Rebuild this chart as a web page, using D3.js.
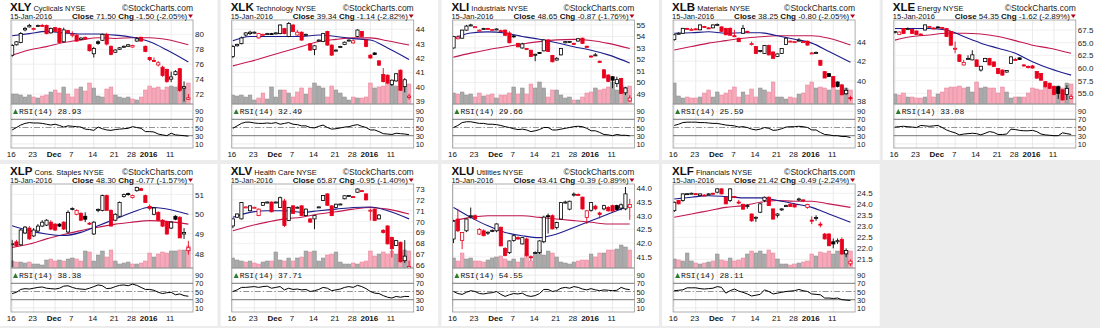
<!DOCTYPE html>
<html><head><meta charset="utf-8">
<script src="https://cdn.jsdelivr.net/npm/d3@7"></script>
<style>body{margin:0;background:#ececec;}svg{display:block}</style>
</head><body><svg id="c" width="1100" height="328"></svg>
<script>
const dates = ["2015-11-16","2015-11-17","2015-11-18","2015-11-19","2015-11-20","2015-11-23","2015-11-24","2015-11-25","2015-11-27","2015-11-30",
"2015-12-01","2015-12-02","2015-12-03","2015-12-04","2015-12-07","2015-12-08","2015-12-09","2015-12-10","2015-12-11","2015-12-14","2015-12-15","2015-12-16","2015-12-17","2015-12-18",
"2015-12-21","2015-12-22","2015-12-23","2015-12-24","2015-12-28","2015-12-29","2015-12-30","2015-12-31",
"2016-01-04","2016-01-05","2016-01-06","2016-01-07","2016-01-08","2016-01-11","2016-01-12","2016-01-13","2016-01-14","2016-01-15"];
const tickDates = ["2015-11-16","2015-11-23","2015-12-01","2015-12-07","2015-12-14","2015-12-21","2015-12-28","2016-01-04","2016-01-11"];
const tickLabels = ["16","23","Dec","7","14","21","28","2016","11"];
const maIdx = [0,4,8,12,16,20,24,28,32,36,41];
const rsiTicks = [90,70,50,30,10];

const symbols = ["XLY","XLK","XLI","XLB","XLE","XLP","XLV","XLU","XLF"];
const sectorNames = ["Cyclicals","Technology","Industrials","Materials","Energy","Cons. Staples","Health Care","Utilities","Financials"];
const closeText = ["71.50","39.34","48.65","38.25","54.35","48.30","65.87","43.41","21.42"];
const chgText = ["-1.50 (-2.05%)","-1.14 (-2.82%)","-0.87 (-1.76%)","-0.80 (-2.05%)","-1.62 (-2.89%)","-0.77 (-1.57%)","-0.95 (-1.40%)","-0.39 (-0.89%)","-0.49 (-2.24%)"];
const rsiLast = ["28.93","32.49","29.66","25.59","33.08","38.38","37.71","54.55","28.11"];

// ---- XLY ----
const XLY_ohlc = [[77.2,78.7,77.0,78.5],[78.6,79.1,78.5,79.0],[78.9,80.3,78.8,80.1],[80.6,81.0,80.4,80.8],[81.0,81.4,80.9,81.2],[80.7,80.9,80.5,80.8],[81.1,81.3,81.0,81.2],[81.2,81.4,81.0,81.1],[81.2,81.3,80.0,80.1],[80.2,80.9,80.1,80.8],
[80.9,81.0,80.3,80.4],[80.8,80.9,78.8,78.9],[79.0,80.9,78.9,80.6],[80.5,80.6,80.1,80.2],[79.9,80.4,79.6,80.0],[79.9,80.0,79.0,79.1],[79.3,79.6,79.2,79.5],[79.6,79.7,79.3,79.4],[78.6,78.7,77.7,77.8],[77.4,78.3,76.9,78.1],
[79.0,79.2,78.6,78.8],[79.2,80.1,79.1,80.0],[80.0,80.2,78.5,78.7],[78.4,78.5,77.2,77.3],[77.6,78.0,77.5,77.9],[78.0,78.3,77.9,78.2],[78.3,78.5,78.2,78.4],[78.4,78.7,78.3,78.6],[78.3,78.6,78.2,78.5],[79.1,79.6,79.0,79.4],
[79.6,79.7,79.0,79.1],[78.4,78.5,77.6,77.7],[76.9,77.0,76.4,76.6],[76.5,76.9,76.3,76.5],[75.9,76.4,75.7,76.2],[75.6,75.8,74.3,74.5],[75.3,75.4,73.5,73.7],[74.0,75.0,73.6,74.3],[74.6,75.2,74.5,75.0],[75.4,75.5,72.3,72.5],
[72.8,73.7,71.0,73.0],[71.3,72.0,71.2,71.5]];
const XLY_vol = [10,10,9,7,9,7,6,8,9,12,14,11,17,10,7,15,17,13,21,16,8,7,15,17,9,7,6,7,5,4,7,14,18,16,17,14,17,18,17,19,16,21];
const XLY_rsi = [44,50,56,60,62,61,61,60,58,56,58,55,51,54,53,52,51,46,45,43,51,47,44,43,45,46,47,48,52,50,48,40,40,39,34,32,30,36,32,31,30,28.9];
const XLY_ma20 = [79.8,80.1,80.4,80.2,80.05,80.05,79.9,79.6,79.0,77.9,76.3];
const XLY_ma50 = [77.2,77.9,78.35,78.9,79.25,79.55,79.45,79.55,79.55,79.3,78.6];
const XLY_ticks = [72,74,76,78,80];
const XLY_domain = [70.67,81.92];

// ---- XLK ----
const XLK_ohlc = [[42.1,42.9,42.0,42.8],[42.85,43.0,42.8,42.95],[43.0,43.5,42.95,43.4],[43.6,43.8,43.5,43.75],[43.7,43.9,43.6,43.8],[43.75,43.85,43.7,43.8],[43.4,43.75,43.35,43.7],[43.6,43.7,43.55,43.65],[43.65,43.75,43.6,43.7],[43.7,43.75,43.65,43.7],
[43.7,43.8,43.65,43.75],[43.7,44.35,43.65,44.3],[44.05,44.1,43.65,43.7],[43.5,44.5,43.45,44.4],[44.3,44.35,43.8,43.85],[43.6,43.95,43.55,43.8],[43.8,43.85,43.2,43.25],[43.6,43.7,43.55,43.65],[43.0,43.05,42.5,42.55],[42.6,42.9,42.2,42.85],
[43.2,43.3,43.15,43.25],[43.15,43.75,43.1,43.7],[43.85,43.9,42.85,42.9],[42.9,42.95,42.15,42.2],[42.5,42.6,42.45,42.55],[42.75,42.85,42.7,42.8],[42.95,43.15,42.9,43.1],[43.2,43.3,43.15,43.25],[43.05,43.3,43.0,43.2],[43.5,44.0,43.45,43.95],
[43.85,43.9,43.45,43.5],[43.25,43.3,42.75,42.8],[42.2,42.25,41.95,42.0],[42.35,42.4,42.2,42.25],[41.8,41.85,41.45,41.5],[40.85,41.3,40.3,40.35],[40.8,40.85,40.2,40.25],[40.15,40.5,40.05,40.45],[40.4,40.95,40.35,40.9],[41.15,41.2,39.7,39.75],
[40.0,40.6,39.6,40.48],[39.25,39.5,39.1,39.34]];
const XLK_vol = [9,8,9,7,9,4,6,11,5,17,7,14,14,11,7,12,16,10,16,21,18,16,7,18,14,11,7,4,7,6,6,7,21,16,17,18,21,19,18,24,17,20];
const XLK_rsi = [48,54,60,63,63,61,60,60,61,60,62,58,60,62,58,57,54,54,50,49,53,56,50,46,47,49,51,52,55,57,53,50,44,44,40,35,34,33,36,35,34,32.5];
const XLK_ma20 = [43.2,43.5,43.5,43.5,43.5,43.6,43.5,43.35,43.25,42.7,41.9];
const XLK_ma50 = [41.45,41.75,42.1,42.45,42.8,43.15,43.3,43.4,43.4,43.2,42.9];
const XLK_ticks = [39,40,41,42,43,44];
const XLK_domain = [38.79,44.65];

// ---- XLI ----
const XLI_ohlc = [[53.0,54.05,52.95,54.0],[53.8,54.1,53.75,53.95],[53.85,54.6,53.8,54.55],[54.55,55.0,54.5,54.9],[54.95,55.1,54.9,55.0],[54.8,54.9,54.75,54.85],[54.5,54.6,54.45,54.55],[54.65,54.75,54.6,54.7],[54.7,54.75,54.6,54.65],[54.55,54.65,54.5,54.6],
[54.6,54.7,54.55,54.65],[54.5,54.6,54.45,54.5],[54.55,54.6,54.05,54.1],[54.3,54.45,53.4,53.45],[54.05,54.1,53.9,54.0],[53.4,53.45,53.05,53.1],[53.0,53.45,52.95,53.35],[52.95,53.0,52.85,52.9],[52.8,52.85,52.2,52.25],[52.4,52.5,51.85,52.45],
[52.6,52.65,52.5,52.55],[52.75,53.75,52.7,53.7],[53.7,53.75,52.65,52.7],[52.35,52.4,51.75,51.8],[51.95,52.2,51.9,52.1],[52.4,53.0,52.35,52.95],[53.45,53.6,53.4,53.55],[53.5,53.6,53.45,53.57],[53.4,53.45,53.3,53.35],[53.6,53.85,53.55,53.8],
[53.85,53.9,53.35,53.4],[53.15,53.2,53.0,53.05],[52.3,52.35,52.15,52.25],[52.35,52.55,52.3,52.4],[51.85,51.9,51.7,51.75],[51.1,51.15,50.35,50.4],[50.65,50.7,50.05,50.1],[50.5,50.55,49.5,50.2],[49.9,50.5,49.6,50.25],[50.35,50.4,49.0,49.05],
[49.1,49.6,48.9,49.52],[48.4,48.9,48.3,48.65]];
const XLI_vol = [11,10,12,9,10,7,11,8,9,10,6,9,9,11,17,10,16,10,20,16,22,16,7,14,14,9,6,7,4,4,7,11,12,16,14,15,17,22,14,19,17,18];
const XLI_rsi = [50,55,62,64,64,62,60,60,58,58,57,55,52,50,47,45,46,44,40,42,45,50,50,44,44,46,48,50,52,53,52,48,42,42,38,33,32,30,33,31,31,29.7];
const XLI_ma20 = [53.85,54.3,54.4,54.3,54.0,53.75,53.45,53.1,52.8,52.4,51.7];
const XLI_ma50 = [52.2,52.55,52.85,53.1,53.35,53.55,53.7,53.75,53.65,53.4,52.95];
const XLI_ticks = [49,50,51,52,53,54,55];
const XLI_domain = [48.13,55.43];

// ---- XLB ----
const XLB_ohlc = [[44.2,44.75,44.1,44.7],[44.8,44.95,44.75,44.85],[44.85,45.4,44.8,45.35],[45.35,45.4,45.25,45.3],[45.2,45.4,45.15,45.25],[45.3,45.35,45.2,45.22],[45.2,45.75,45.15,45.7],[45.55,45.6,45.45,45.5],[45.4,45.45,45.3,45.35],[45.4,45.75,45.35,45.7],
[45.7,45.85,45.6,45.75],[45.5,45.55,45.0,45.05],[45.35,45.4,44.65,44.7],[45.35,45.45,44.6,44.65],[44.6,45.2,44.5,44.6],[44.35,44.4,43.95,44.0],[44.85,45.7,44.8,45.35],[45.05,45.1,44.95,45.0],[43.75,44.0,43.6,43.8],[43.5,43.55,42.75,42.8],
[43.0,43.1,42.9,43.1],[42.8,43.65,42.75,43.6],[43.6,43.7,42.6,42.65],[42.95,43.0,42.3,42.3],[42.5,42.8,42.45,42.75],[42.8,43.3,42.75,43.3],[43.7,44.4,43.65,44.35],[44.0,44.1,43.95,44.05],[43.95,44.05,43.9,44.0],[44.1,44.35,44.05,44.15],
[44.0,44.05,43.95,44.0],[44.05,44.1,43.6,43.65],[42.8,42.95,42.75,42.85],[42.85,43.0,42.8,42.9],[42.1,42.15,41.55,41.6],[40.95,41.0,40.3,40.3],[40.75,40.8,40.4,40.45],[40.45,40.5,39.35,39.4],[39.9,39.95,39.35,39.45],[39.6,39.7,38.55,38.6],
[38.7,39.3,38.6,39.05],[38.3,38.5,38.0,38.25]];
const XLB_vol = [21,8,6,7,6,6,7,11,14,7,12,9,11,14,17,7,12,9,15,7,16,14,12,22,7,7,5,7,6,10,11,19,22,16,17,16,14,17,14,17,16,14];
const XLB_rsi = [55,58,62,63,63,63,62,62,61,60,60,58,56,55,54,51,52,50,46,44,46,50,48,43,44,47,51,52,52,53,52,50,44,44,38,33,32,30,30,28,28,25.6];
const XLB_ma20 = [44.85,44.9,45.0,44.85,44.9,44.9,44.6,44.25,43.85,43.0,41.9];
const XLB_ma50 = [43.15,43.5,43.85,44.1,44.35,44.5,44.6,44.6,44.6,44.35,43.65];
const XLB_ticks = [38,40,42,44];
const XLB_domain = [37.66,46.2];

// ---- XLE ----
const XLE_ohlc = [[67.0,67.3,66.8,67.2],[66.6,67.2,66.5,67.1],[67.8,67.9,66.7,66.8],[67.7,68.0,67.6,67.8],[67.6,67.7,66.8,66.8],[67.3,67.4,66.5,66.6],[66.7,66.8,66.4,66.5],[67.5,68.6,67.4,68.5],[68.1,68.3,68.0,68.2],[67.9,68.0,67.7,67.8],
[68.1,68.2,68.0,68.1],[68.0,68.1,67.9,67.95],[67.8,67.9,66.1,66.2],[67.2,67.3,64.4,64.5],[63.8,65.2,62.9,63.9],[62.6,62.7,61.2,61.3],[60.6,61.6,60.5,61.1],[61.8,62.5,61.7,61.9],[61.6,63.5,61.5,62.6],[61.6,61.7,60.2,60.3],
[59.6,60.4,59.3,60.35],[61.25,62.0,61.2,61.9],[61.9,62.0,60.5,60.6],[61.2,61.3,60.2,60.3],[59.9,60.0,58.8,58.9],[59.6,59.7,58.5,58.6],[59.2,59.6,59.1,59.5],[60.9,62.3,60.8,62.2],[61.7,62.0,61.5,61.6],[62.0,62.1,61.6,61.7],
[60.6,60.8,60.3,60.4],[60.3,60.5,59.9,60.1],[60.4,60.6,59.9,60.0],[59.3,59.4,57.9,58.0],[58.9,59.0,57.5,57.6],[57.3,57.4,56.2,56.3],[57.0,57.1,55.9,56.0],[56.4,56.5,54.6,54.8],[56.3,56.5,53.9,55.0],[55.7,55.8,53.6,53.7],
[54.8,56.6,53.7,55.97],[54.0,54.8,53.8,54.35]];
const XLE_vol = [10,9,11,7,7,6,6,7,14,7,10,12,16,17,17,18,16,17,12,22,16,17,16,16,11,17,12,6,7,7,7,11,16,15,14,17,16,14,18,16,21,20];
const XLE_rsi = [51,52,53,52,51,50,55,54,53,54,55,50,44,40,37,32,34,35,36,35,32,36,40,38,33,33,34,46,45,43,42,42,43,40,34,32,31,30,30,37,35,33.1];
const XLE_ma20 = [67.8,67.8,67.8,67.5,66.2,64.9,63.9,62.9,61.25,59.9,58.6];
const XLE_ma50 = [65.5,66.2,66.5,66.85,66.85,66.7,66.2,65.4,64.5,63.9,62.9];
const XLE_ticks = [55,57.5,60,62.5,65,67.5];
const XLE_domain = [52.9,69.47];

// ---- XLP ----
const XLP_ohlc = [[48.45,48.7,47.3,48.5],[48.6,48.7,48.35,48.4],[48.45,49.25,48.4,49.2],[49.05,49.4,49.0,49.35],[49.3,49.4,48.7,48.75],[48.9,49.3,48.85,49.2],[49.15,49.5,49.1,49.4],[49.4,49.7,49.35,49.6],[49.45,49.75,49.4,49.7],[49.6,49.7,49.2,49.25],
[49.5,49.55,49.15,49.2],[49.5,49.55,49.35,49.4],[49.6,49.65,49.2,49.25],[49.1,50.2,49.05,50.1],[50.25,50.35,50.2,50.3],[50.0,50.25,49.95,50.2],[50.05,50.1,49.65,49.7],[49.9,50.1,49.6,49.75],[49.55,49.6,49.45,49.5],[49.0,49.65,48.95,49.6],
[50.2,50.3,50.1,50.25],[50.2,51.0,50.15,50.95],[50.95,51.0,50.2,50.2],[50.2,50.25,49.4,49.4],[49.7,50.05,49.65,50.0],[49.9,50.65,49.85,50.6],[50.9,51.05,50.85,51.0],[51.05,51.1,50.95,51.02],[50.85,51.0,50.8,50.95],[51.2,51.4,51.15,51.37],
[51.3,51.35,51.2,51.22],[50.95,51.0,50.6,50.6],[50.4,50.5,50.2,50.3],[50.0,50.35,49.95,50.32],[50.1,50.15,49.65,49.7],[49.7,49.75,49.35,49.4],[49.6,49.65,48.95,49.0],[49.3,49.65,49.25,49.6],[49.9,49.95,49.7,49.75],[49.85,49.9,48.8,48.8],
[49.0,49.3,48.75,49.07],[48.15,48.65,47.95,48.3]];
const XLP_vol = [7,6,6,5,6,4,4,3,8,9,7,8,7,9,10,9,7,17,16,7,13,17,11,18,7,4,5,6,4,4,5,7,15,11,14,16,15,17,17,18,18,22];
const XLP_rsi = [45,48,55,57,56,58,60,61,58,57,56,58,63,64,60,57,56,55,58,62,66,64,57,58,62,65,66,64,68,65,60,55,55,53,48,45,47,48,42,44,40,38.4];
const XLP_ma20 = [49.42,49.17,49.0,48.92,49.08,49.42,49.76,50.1,50.36,50.27,50.0];
const XLP_ma50 = [48.32,48.49,48.75,48.97,49.17,49.34,49.5,49.6,49.68,49.64,49.5];
const XLP_ticks = [48,49,50,51];
const XLP_domain = [47.27,51.54];

// ---- XLV ----
const XLV_ohlc = [[69.6,70.3,69.4,70.25],[70.4,70.75,70.35,70.7],[70.25,71.8,70.2,71.75],[71.3,71.4,71.25,71.35],[71.0,71.5,70.95,71.45],[71.3,71.35,71.25,71.32],[70.55,71.2,70.5,71.15],[71.5,71.8,71.45,71.75],[71.75,71.85,71.7,71.8],[71.8,71.85,70.85,70.9],
[71.75,71.85,71.7,71.8],[71.3,72.3,71.25,72.2],[71.9,72.1,69.5,69.65],[70.1,71.35,70.05,71.3],[71.45,71.5,70.7,70.75],[71.3,71.4,71.25,71.32],[71.45,71.5,70.5,70.55],[70.55,71.2,70.5,71.15],[70.25,70.3,69.9,69.95],[70.25,70.6,69.3,70.55],
[71.3,71.4,71.25,71.35],[71.95,72.45,71.9,72.4],[72.55,72.6,71.45,71.5],[71.45,71.5,70.5,70.55],[71.3,71.65,71.25,71.6],[71.6,71.65,71.55,71.62],[72.1,72.4,72.05,72.38],[72.35,72.45,72.3,72.4],[72.3,72.35,72.2,72.25],[72.7,73.05,72.65,73.0],
[72.85,72.9,72.8,72.82],[72.55,72.6,71.95,72.0],[71.0,71.2,70.1,71.05],[71.15,71.2,70.05,70.1],[70.25,70.7,70.2,70.6],[69.2,69.3,68.9,69.0],[69.6,69.65,67.9,67.95],[68.55,68.6,66.7,67.5],[67.8,68.3,67.75,68.25],[68.1,68.15,66.25,66.3],
[66.4,68.3,66.2,66.82],[65.7,66.4,65.6,65.87]];
const XLV_vol = [10,8,7,6,7,5,4,6,7,7,16,8,7,10,7,10,11,17,16,17,7,10,13,14,16,6,4,4,5,4,6,7,17,12,14,16,14,17,14,16,18,17];
const XLV_rsi = [50,54,60,60,61,62,60,62,63,58,60,62,54,58,55,56,54,55,50,52,55,60,58,52,54,56,60,62,60,65,62,57,50,46,45,40,36,34,38,36,38,37.7];
const XLV_ma20 = [70.4,70.85,71.0,71.0,70.85,71.0,71.15,71.3,71.35,71.0,70.25];
const XLV_ma50 = [69.15,69.6,69.95,70.25,70.4,70.7,70.9,71.15,71.3,71.15,70.7];
const XLV_ticks = [66,67,68,69,70,71,72,73];
const XLV_domain = [65.73,73.46];

// ---- XLU ----
const XLU_ohlc = [[42.15,42.85,42.0,42.8],[42.88,43.25,42.4,42.45],[42.1,42.4,41.78,42.39],[42.45,42.9,42.4,42.88],[42.98,43.3,42.9,43.0],[43.0,43.05,42.85,42.88],[42.33,42.55,42.3,42.5],[42.45,42.5,42.25,42.27],[42.38,42.42,42.3,42.4],[42.43,42.5,42.4,42.46],
[42.45,42.72,42.4,42.7],[42.58,42.6,41.88,41.9],[41.8,41.85,41.52,41.55],[41.65,42.1,41.6,42.08],[42.1,42.3,42.05,42.27],[42.2,42.25,42.12,42.15],[41.97,42.22,41.95,42.2],[42.15,42.2,41.5,41.55],[41.5,41.55,41.35,41.48],[41.65,41.7,41.6,41.66],
[41.66,42.1,41.6,42.08],[42.05,43.0,42.0,42.95],[43.0,43.08,42.35,42.98],[43.0,43.05,42.5,42.52],[42.57,42.78,42.5,42.75],[42.88,43.5,42.85,43.48],[43.47,43.55,43.45,43.5],[43.24,43.55,43.2,43.53],[43.77,43.85,43.7,43.79],[43.78,43.82,43.72,43.75],
[43.68,43.7,43.22,43.25],[42.94,43.2,42.7,43.18],[43.2,43.5,43.15,43.48],[43.35,43.4,43.2,43.25],[43.1,43.15,42.9,43.05],[43.25,43.4,43.2,43.37],[43.3,43.35,43.15,43.18],[43.37,43.4,43.15,43.17],[43.37,43.4,43.2,43.23],[43.28,43.45,43.2,43.4],
[43.25,44.05,43.2,43.8],[43.3,43.62,42.85,43.41]];
const XLU_vol = [10,7,15,9,10,7,7,6,8,10,11,12,9,7,9,6,10,14,7,15,18,13,17,15,11,6,5,4,6,7,8,8,14,11,15,15,18,18,19,23,21,18];
const XLU_rsi = [50,45,43,48,52,50,45,44,46,47,50,43,38,42,45,44,46,40,38,40,45,55,55,50,52,58,60,58,62,60,56,54,57,54,52,54,53,52,53,60,56,54.6];
const XLU_ma20 = [43.3,42.94,42.63,42.39,42.27,42.2,42.33,42.57,42.82,43.06,43.37];
const XLU_ma50 = [42.82,42.94,43.0,43.0,43.0,42.94,42.88,42.82,42.76,42.7,42.7];
const XLU_ticks = [41.5,42,42.5,43,43.5,44];
const XLU_domain = [41.09,44.16];

// ---- XLF ----
const XLF_ohlc = [[23.71,24.12,23.65,24.09],[24.17,24.2,24.0,24.02],[24.17,24.5,24.12,24.47],[24.45,24.5,24.43,24.48],[24.49,24.53,24.47,24.5],[24.48,24.5,24.44,24.46],[24.4,24.48,24.38,24.47],[24.42,24.45,24.38,24.4],[24.44,24.5,24.42,24.47],[24.5,24.52,24.44,24.46],
[24.55,24.72,24.5,24.7],[24.7,24.73,24.45,24.47],[24.32,24.35,24.0,24.02],[24.17,24.72,24.1,24.7],[24.35,24.38,24.28,24.32],[24.1,24.2,24.0,24.09],[24.0,24.02,23.75,23.78],[23.92,24.0,23.8,23.94],[23.56,23.58,23.2,23.25],[23.4,23.45,23.2,23.41],
[23.64,24.05,23.6,24.02],[24.17,24.35,24.1,24.32],[24.32,24.36,23.92,23.94],[23.79,23.8,23.3,23.33],[23.5,23.6,23.4,23.56],[23.76,23.82,23.7,23.79],[23.92,23.98,23.88,23.94],[24.0,24.05,23.9,23.9],[23.98,24.02,23.85,23.88],[24.2,24.3,24.15,24.24],
[24.2,24.22,24.1,24.17],[23.86,24.02,23.8,23.99],[23.28,23.45,23.1,23.26],[23.38,23.5,23.25,23.4],[23.1,23.2,22.95,23.08],[22.65,22.7,22.4,22.43],[22.65,22.7,22.1,22.12],[22.3,22.45,22.0,22.2],[22.3,22.45,22.2,22.35],[22.4,22.5,21.7,21.75],
[21.75,22.0,21.6,21.91],[21.3,21.5,21.2,21.42]];
const XLF_vol = [9,8,7,15,7,5,4,5,6,7,14,8,7,10,7,8,10,14,17,15,17,14,18,15,9,4,4,3,4,5,6,7,14,12,16,15,17,14,17,17,17,17];
const XLF_rsi = [52,53,54,59,59,59,57,56,57,58,62,60,46,52,56,51,48,44,39,41,43,54,50,44,46,48,50,51,52,55,52,50,44,43,42,34,34,33,34,30,29,28.1];
const XLF_ma20 = [24.24,24.32,24.39,24.35,24.29,24.29,24.17,24.02,23.86,23.56,23.18];
const XLF_ma50 = [23.41,23.56,23.71,23.86,23.94,24.09,24.17,24.14,24.14,24.02,23.86];
const XLF_ticks = [21.5,22,22.5,23,23.5,24,24.5];
const XLF_domain = [21.11,24.92];

const ohlcs = [XLY_ohlc,XLK_ohlc,XLI_ohlc,XLB_ohlc,XLE_ohlc,XLP_ohlc,XLV_ohlc,XLU_ohlc,XLF_ohlc];
const vols = [XLY_vol,XLK_vol,XLI_vol,XLB_vol,XLE_vol,XLP_vol,XLV_vol,XLU_vol,XLF_vol];
const rsis = [XLY_rsi,XLK_rsi,XLI_rsi,XLB_rsi,XLE_rsi,XLP_rsi,XLV_rsi,XLU_rsi,XLF_rsi];
const ma20s = [XLY_ma20,XLK_ma20,XLI_ma20,XLB_ma20,XLE_ma20,XLP_ma20,XLV_ma20,XLU_ma20,XLF_ma20];
const ma50s = [XLY_ma50,XLK_ma50,XLI_ma50,XLB_ma50,XLE_ma50,XLP_ma50,XLV_ma50,XLU_ma50,XLF_ma50];
const priceTicks = [XLY_ticks,XLK_ticks,XLI_ticks,XLB_ticks,XLE_ticks,XLP_ticks,XLV_ticks,XLU_ticks,XLF_ticks];
const domains = [XLY_domain,XLK_domain,XLI_domain,XLB_domain,XLE_domain,XLP_domain,XLV_domain,XLU_domain,XLF_domain];

const svg = d3.select("#c");
svg.append("rect").attr("width",1100).attr("height",328).attr("fill","#ececec");
const FONT = "Liberation Sans, Arial, sans-serif";
const RED = "#e8001c", BLUE = "#1c1c8c", MAROON = "#c2184f";

symbols.forEach((sym,k)=>{
  const col=k%5,row=Math.floor(k/5);
  const g=svg.append("g").attr("transform",`translate(${(col*220.7).toFixed(1)},${row*164})`);
  g.append("rect").attr("width",217.5).attr("height",row?162:160).attr("fill","#fff");
  const L=11,R=193,T=20,B=104,RT=104,RB=148;
  const x=d3.scaleBand().domain(dates).range([10,190.5]);
  const xc=d=>x(d)+x.bandwidth()/2;
  const y=d3.scaleLinear().domain(domains[k]).range([B,T]);
  const yv=d3.scaleLinear().domain([0,84]).range([B,T]);
  const yr=d3.scaleLinear().domain([0,100]).range([RB,107]);
  const ohlc=ohlcs[k];
  const fmt = (sym==="XLE"||sym==="XLU"||sym==="XLF") ? d3.format(".1f") : d3.format("d");
  const cid="clip"+k;
  g.append("clipPath").attr("id",cid).append("rect").attr("x",L).attr("y",T).attr("width",R-L).attr("height",B-T);

  // grid
  g.selectAll(".vg").data(tickDates).join("line").attr("x1",d=>xc(d)).attr("x2",d=>xc(d)).attr("y1",T).attr("y2",RB).attr("stroke","#e4e4e4").attr("stroke-width",0.8);
  g.selectAll(".hg").data(priceTicks[k]).join("line").attr("x1",L).attr("x2",R).attr("y1",d=>y(d)).attr("y2",d=>y(d)).attr("stroke","#ececec").attr("stroke-width",0.8);

  const pg=g.append("g").attr("clip-path",`url(#${cid})`);
  // volume
  pg.selectAll(".vb").data(vols[k]).join("rect")
    .attr("x",(v,i)=>x(dates[i])+0.3).attr("width",x.bandwidth()-0.6)
    .attr("y",v=>yv(v)).attr("height",v=>B-yv(v))
    .attr("fill",(v,i)=> (i>0 && ohlc[i][3]<ohlc[i-1][3]) ? "#f7a9b9" : "#aaaaaa")
    .attr("stroke",(v,i)=> (i>0 && ohlc[i][3]<ohlc[i-1][3]) ? "#e47d96" : "#8a8a8a").attr("stroke-width",0.5);
  // moving averages
  const ln=arr=>d3.line().x((v,j)=>xc(dates[maIdx[j]])).y(v=>y(v)).curve(d3.curveMonotoneX)(arr);
  pg.append("path").attr("d",ln(ma50s[k])).attr("fill","none").attr("stroke",MAROON).attr("stroke-width",1.1);
  pg.append("path").attr("d",ln(ma20s[k])).attr("fill","none").attr("stroke",BLUE).attr("stroke-width",1.1);
  // candles
  ohlc.forEach((d,i)=>{
    const [o,h,l,c]=d;
    const color=(i>0 && c<ohlc[i-1][3])?RED:"#000";
    const cx=xc(dates[i]);
    pg.append("line").attr("x1",cx).attr("x2",cx).attr("y1",y(h)).attr("y2",y(l)).attr("stroke",color).attr("stroke-width",0.9);
    const top=Math.min(y(o),y(c)), hh=Math.max(1,Math.abs(y(o)-y(c)));
    pg.append("rect").attr("x",cx-1.6).attr("width",3.2).attr("y",top).attr("height",hh)
      .attr("fill",c>o?"#fff":color).attr("stroke",color).attr("stroke-width",0.8);
  });
  // frames
  g.append("rect").attr("x",L).attr("y",T).attr("width",R-L).attr("height",B-T).attr("fill","none").attr("stroke","#9a9a9a").attr("stroke-width",0.8);
  g.append("rect").attr("x",L).attr("y",RT).attr("width",R-L).attr("height",RB-RT).attr("fill","none").attr("stroke","#9a9a9a").attr("stroke-width",0.8);
  // price labels
  g.selectAll(".pl").data(priceTicks[k]).join("text").attr("x",R+2).attr("y",d=>y(d)+3).text(d=>fmt(d))
    .attr("font-family",FONT).attr("font-size",8).attr("fill","#222");
  // RSI
  [90,10].forEach(v=>g.append("line").attr("x1",L).attr("x2",R).attr("y1",yr(v)).attr("y2",yr(v)).attr("stroke","#e6e6e6").attr("stroke-width",0.8));
  [70,30].forEach(v=>g.append("line").attr("x1",L).attr("x2",R).attr("y1",yr(v)).attr("y2",yr(v)).attr("stroke","#666").attr("stroke-width",0.9));
  g.append("line").attr("x1",L).attr("x2",R).attr("y1",yr(50)).attr("y2",yr(50)).attr("stroke","#777").attr("stroke-width",0.8).attr("stroke-dasharray","6,2,1.5,2");
  g.append("path").attr("d",d3.line().x((v,i)=>xc(dates[i])).y(v=>yr(v))(rsis[k])).attr("fill","none").attr("stroke","#000").attr("stroke-width",1);
  g.selectAll(".rl").data(rsiTicks).join("text").attr("x",R+2).attr("y",d=>yr(d)+3).text(d=>d)
    .attr("font-family",FONT).attr("font-size",7.5).attr("fill","#222");
  g.append("path").attr("d",`M${L+2},114 l2.5,-5 l2.5,5 z`).attr("fill","#2c7a2c");
  g.append("text").attr("x",L+8).attr("y",113.5).text("RSI(14) "+rsiLast[k])
    .attr("font-family","Liberation Mono, DejaVu Sans Mono, monospace").attr("font-size",8).attr("fill","#111");
  // date labels
  g.selectAll(".dl").data(tickDates).join("text").attr("x",d=>xc(d)-1).attr("y",157).attr("text-anchor","middle")
    .text((d,i)=>tickLabels[i]).attr("font-family",FONT).attr("font-size",8)
    .attr("font-weight",(d,i)=>(tickLabels[i]==="Dec"||tickLabels[i]==="2016")?"bold":"normal").attr("fill","#111");
  // titles
  const t1=g.append("text").attr("x",10).attr("y",10.5).attr("font-family",FONT).attr("fill","#111");
  t1.append("tspan").text(sym).attr("font-weight","bold").attr("font-size",11.5);
  t1.append("tspan").text(" "+sectorNames[k]+" NYSE").attr("font-size",7.5);
  g.append("text").attr("x",R).attr("y",10.5).attr("text-anchor","end").text("©StockCharts.com")
    .attr("font-family",FONT).attr("font-size",8.5).attr("fill","#222");
  g.append("text").attr("x",10).attr("y",18.5).text("15-Jan-2016").attr("font-family",FONT).attr("font-size",7.5).attr("fill","#111");
  const t2=g.append("text").attr("x",72).attr("y",18.5).attr("font-family",FONT).attr("font-size",8).attr("fill","#111");
  t2.append("tspan").text("Close").attr("font-weight","bold");
  t2.append("tspan").text(" "+closeText[k]+"  ");
  t2.append("tspan").text("Chg").attr("font-weight","bold");
  t2.append("tspan").text(" "+chgText[k]);
  g.append("path").attr("d",`M${R-5},14.5 l5,0 l-2.5,3.5 z`).attr("fill","#b0001c");
});
</script></body></html>
